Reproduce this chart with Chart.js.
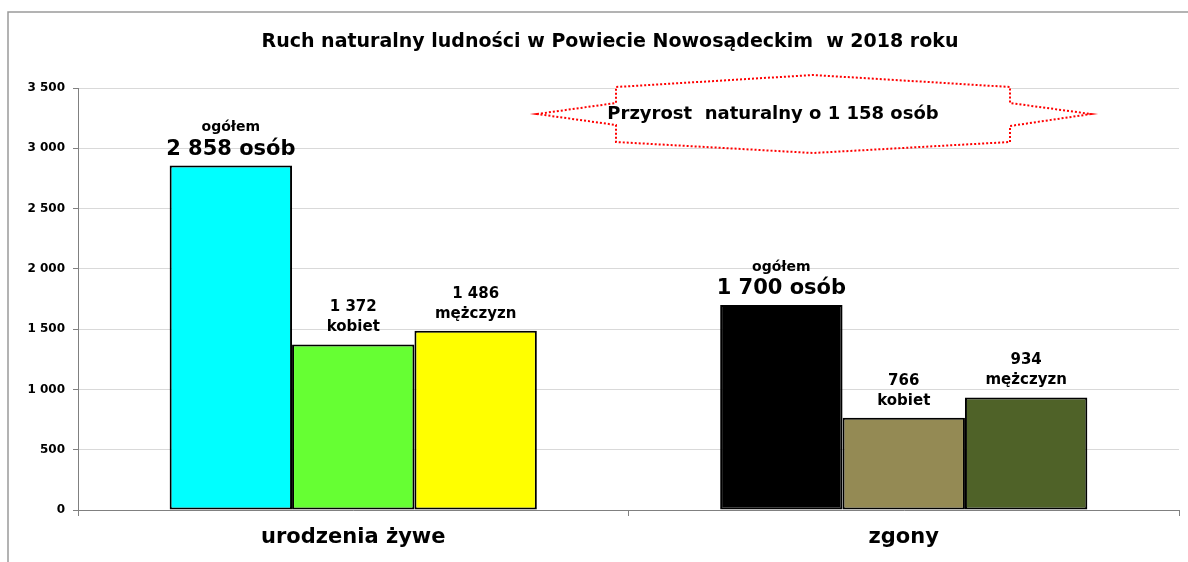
<!DOCTYPE html>
<html>
<head>
<meta charset="utf-8">
<script src="https://cdn.jsdelivr.net/npm/chart.js@4.4.0/dist/chart.umd.min.js"></script>
<style>
  body { margin: 0; background: #fff; }
  #wrap { width: 1188px; height: 562px; }
</style>
</head>
<body>
<div id="wrap"><canvas id="chartjs" width="1188" height="562"></canvas></div>
<script>
// dane
const categories = ['urodzenia żywe', 'zgony'];
const seriesNames = ['ogółem', 'kobiet', 'mężczyzn'];
const totalValues = [2858, 1700];
const femaleValues = [1372, 766];
const maleValues = [1486, 934];
const yMin = 0, yMax = 3500, yStep = 500;
const chartTitle = 'Ruch naturalny ludności w Powiecie Nowosądeckim  w 2018 roku';

const totalColors = ['#00ffff', '#000000'];
const femaleColors = ['#66ff33', '#948a54'];
const maleColors = ['#ffff00', '#4f6228'];

const FONT = "'DejaVu Sans', Arial, sans-serif";

// 3 500 zamiast 3500
function fmt(v) {
    return String(v).replace(/\B(?=(\d{3})+(?!\d))/g, ' ');
}

// ramka wykresu, tytul + "gwiazdka" z przyrostem
const decoPlugin = {
    id: 'deco',
    beforeDraw(chart) {
        const ctx = chart.ctx;
        ctx.save();
        ctx.strokeStyle = '#9a9a9a';
        ctx.lineWidth = 1.5;
        ctx.beginPath();
        ctx.moveTo(8, chart.height);
        ctx.lineTo(8, 12);
        ctx.lineTo(chart.width, 12);
        ctx.stroke();
        ctx.fillStyle = '#000';
        ctx.font = 'bold 19px ' + FONT;
        ctx.textAlign = 'center';
        ctx.textBaseline = 'middle';
        ctx.fillText(chartTitle, 610, 42);
        ctx.restore();
    },
    afterDraw(chart) {
        const ctx = chart.ctx;
        const pts = [[537,114],[616,103],[616,87],[813,75],[1010,87],[1010,103],
                     [1091,114],[1010,126],[1010,142],[813,153],[616,142],[616,125]];
        ctx.save();
        ctx.fillStyle = '#fff';
        ctx.strokeStyle = '#ff0000';
        ctx.lineWidth = 2;
        ctx.setLineDash([2, 2]);
        ctx.beginPath();
        pts.forEach((p, i) => i ? ctx.lineTo(p[0], p[1]) : ctx.moveTo(p[0], p[1]));
        ctx.closePath();
        ctx.fill();
        ctx.stroke();
        ctx.setLineDash([]);
        const przyrost = totalValues[0] - totalValues[1];
        ctx.fillStyle = '#000';
        ctx.font = 'bold 18px ' + FONT;
        ctx.textAlign = 'center';
        ctx.textBaseline = 'middle';
        ctx.fillText('Przyrost  naturalny o ' + fmt(przyrost) + ' osób', 773, 114);
        ctx.restore();
    }
};

// podpisy nad slupkami
const labelPlugin = {
    id: 'barLabels',
    afterDatasetsDraw(chart) {
        const ctx = chart.ctx;
        ctx.save();
        ctx.fillStyle = '#000';
        ctx.textAlign = 'center';
        ctx.textBaseline = 'middle';
        chart.data.datasets.forEach((ds, di) => {
            const meta = chart.getDatasetMeta(di);
            meta.data.forEach((bar, i) => {
                const v = ds.data[i];
                if (di === 0) {
                    ctx.font = 'bold 14px ' + FONT;
                    ctx.fillText(seriesNames[0], bar.x, bar.y - 38);
                    ctx.font = 'bold 21px ' + FONT;
                    ctx.fillText(fmt(v) + ' osób', bar.x, bar.y - 16);
                } else {
                    ctx.font = 'bold 15px ' + FONT;
                    ctx.fillText(fmt(v), bar.x, bar.y - 37);
                    ctx.fillText(seriesNames[di], bar.x, bar.y - 17);
                }
            });
        });
        ctx.restore();
    }
};

const Charts = document.getElementById('chartjs');
var Bchart = new Chart(Charts, {
    type: 'bar',
    data: {
        labels: categories,
        datasets: [
            { label: seriesNames[0], data: totalValues, backgroundColor: totalColors },
            { label: seriesNames[1], data: femaleValues, backgroundColor: femaleColors },
            { label: seriesNames[2], data: maleValues, backgroundColor: maleColors }
        ]
    },
    options: {
        responsive: false,
        animation: false,
        layout: { padding: { left: 10, right: 9, top: 88, bottom: 0 } },
        datasets: {
            bar: {
                categoryPercentage: 0.667,
                barPercentage: 1,
                borderColor: '#000',
                borderWidth: 2,
                borderSkipped: false
            }
        },
        plugins: {
            legend: { display: false },
            tooltip: { enabled: false },
            title: { display: false }
        },
        scales: {
            x: {
                afterFit(scale) { scale.height = 52; },
                grid: { offset: true, drawOnChartArea: false, tickLength: 6, tickColor: '#808080' },
                border: { color: '#808080', width: 1 },
                ticks: { color: '#000', padding: 9, font: { family: FONT, size: 21, weight: 'bold' } }
            },
            y: {
                min: yMin,
                max: yMax,
                afterFit(scale) { scale.width = 68; },
                grid: { color: '#d9d9d9', tickLength: 5, tickColor: '#808080' },
                border: { color: '#808080', width: 1 },
                ticks: {
                    stepSize: yStep,
                    color: '#000',
                    padding: 8,
                    font: { family: FONT, size: 12, weight: 'bold' },
                    callback: (v) => fmt(v)
                }
            }
        }
    },
    plugins: [decoPlugin, labelPlugin]
});
</script>
</body>
</html>
